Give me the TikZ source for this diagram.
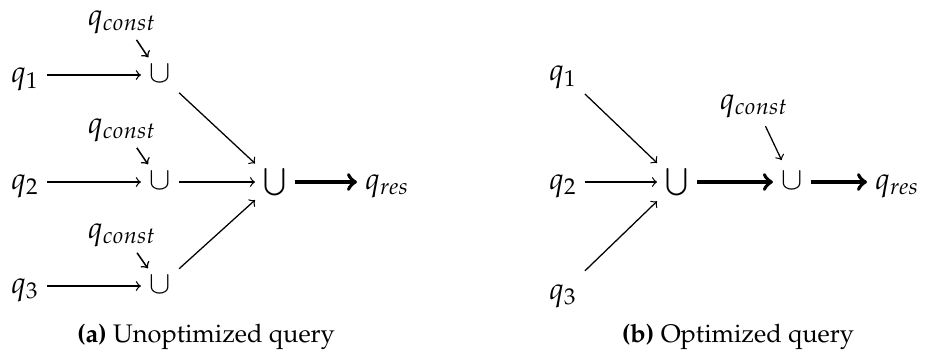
\documentclass[tikz,border=0pt]{standalone}
\usepackage[T1]{fontenc}
\usepackage{mathpazo}
\usepackage{amsmath}
\usepackage{tikz}
\usetikzlibrary{calc,arrows,positioning}

\tikzset{
  term/.style={font=\large,text height=8.4pt,text depth=2.4pt,inner sep=3pt},
  qarr/.style={->,line width=0.5pt},
  qbold/.style={->,line width=1.5pt},
  qin/.style={->,line width=0.6pt,shorten >=-2pt},
}

\begin{document}
\begin{tikzpicture}[x=0.01384cm,y=-0.01384cm]
  \useasboundingbox (0,0) rectangle (930,355);
  % unoptimized query
  \begin{scope}[term]
    \node (q1) at (25,75) {$q_1$};
    \node (q2) at (25,182) {$q_2$};
    \node (q3) at (25,286) {$q_3$};
    \node (c1) at (122,18) {$q_{const}$};
    \node (c2) at (122,126) {$q_{const}$};
    \node (c3) at (122,231) {$q_{const}$};
    \node (u1) at (160,75) {$\cup$};
    \node (u2) at (160,182) {$\cup$};
    \node (u3) at (160,286) {$\cup$};
    \node (bu) at (275,182) {$\bigcup$};
    \node[anchor=west] (res) at (357,182) {$q_{res}$};
  \end{scope}
  \draw[qarr] (q1) -- (u1);
  \draw[qarr] (q2) -- (u2);
  \draw[qarr] (q3) -- (u3);
  \draw[qin] (c1) -- (u1);
  \draw[qin] (c2) -- (u2);
  \draw[qin] (c3) -- (u3);
  \draw[qarr] (u1) -- (bu);
  \draw[qarr] (u2) -- (bu);
  \draw[qarr] (u3) -- (bu);
  \draw[qbold] (bu) -- (res);
  \node at (206,337) {\textbf{(a)} Unoptimized query};
  % optimized query
  \begin{scope}[term]
    \node (p1) at (563,73) {$q_1$};
    \node (p2) at (563,182) {$q_2$};
    \node (p3) at (563,292) {$q_3$};
    \node (pbu) at (677,182) {$\bigcup$};
    \node (pu) at (792,182) {$\cup$};
    \node (pc) at (754,102) {$q_{const}$};
    \node[anchor=west] (pres) at (867,182) {$q_{res}$};
  \end{scope}
  \draw[qarr] (p1) -- (pbu);
  \draw[qarr] (p2) -- (pbu);
  \draw[qarr] (p3) -- (pbu);
  \draw[qbold] (pbu) -- (pu);
  \draw[qarr,shorten <=1pt] (pc) -- (pu);
  \draw[qbold] (pu) -- (pres);
  \node at (738,337) {\textbf{(b)} Optimized query};
\end{tikzpicture}
\end{document}
